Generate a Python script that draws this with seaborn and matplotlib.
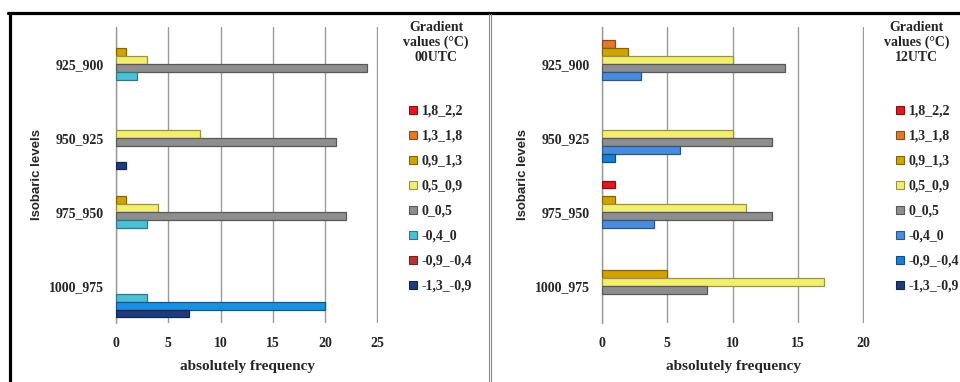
import matplotlib
matplotlib.use("Agg")
import matplotlib.pyplot as plt
from matplotlib.lines import Line2D
from matplotlib.patches import Patch
from matplotlib.colors import to_rgb
import numpy as np
import pandas as pd
import seaborn as sns

# Isobaric layers (top to bottom) and gradient classes (legend order)
levels = ["925_900", "950_925", "975_950", "1000_975"]
gradient_bins = ["1,8_2,2", "1,3_1,8", "0,9_1,3", "0,5_0,9",
                 "0_0,5", "-0,4_0", "-0,9_-0,4", "-1,3_-0,9"]

# absolute frequency per gradient class, one value per isobaric layer
freq_00utc = {
    "1,8_2,2":   [0, 0, 0, 0],
    "1,3_1,8":   [0, 0, 0, 0],
    "0,9_1,3":   [1, 0, 1, 0],
    "0,5_0,9":   [3, 8, 4, 0],
    "0_0,5":     [24, 21, 22, 0],
    "-0,4_0":    [2, 0, 3, 3],
    "-0,9_-0,4": [0, 0, 0, 20],
    "-1,3_-0,9": [0, 1, 0, 7],
}
freq_12utc = {
    "1,8_2,2":   [0, 0, 1, 0],
    "1,3_1,8":   [1, 0, 0, 0],
    "0,9_1,3":   [2, 0, 1, 5],
    "0,5_0,9":   [10, 10, 11, 17],
    "0_0,5":     [14, 13, 13, 8],
    "-0,4_0":    [3, 6, 4, 0],
    "-0,9_-0,4": [0, 1, 0, 0],
    "-1,3_-0,9": [0, 0, 0, 0],
}

xticks_00 = [0, 5, 10, 15, 20, 25]
xticks_12 = [0, 5, 10, 15, 20]

bar_colors_00 = ["#e3171f", "#e07a2c", "#d2a300", "#f3ef6e",
                 "#8e8e8e", "#4cc0d6", "#1b8fe0", "#1d3c80"]
legend_colors_00 = ["#e3171f", "#e07a2c", "#d2a300", "#f3ef6e",
                    "#8e8e8e", "#4cc0d6", "#b83434", "#1d3c80"]
bar_colors_12 = ["#e3171f", "#e07a2c", "#d2a300", "#f3ef6e",
                 "#8e8e8e", "#4a8cdc", "#1a7fd2", "#1d3c80"]
legend_colors_12 = bar_colors_12


def long_table(freq):
    rows = []
    for b in gradient_bins:
        for lev, v in zip(levels, freq[b]):
            if v > 0:
                rows.append({"level": lev, "bin": b, "freq": v})
    return pd.DataFrame(rows)


def darker(c, f=0.62):
    r, g, b = to_rgb(c)
    return (r * f, g * f, b * f)


sns.set_theme(style="white")
plt.rcParams["font.family"] = ["Liberation Serif", "DejaVu Serif"]

W, H = 960, 382
fig = plt.figure(figsize=(W / 100, H / 100), dpi=100)


def panel(x0, freq, bar_cols, leg_cols, xmax, xticks, utc, leg_x, title_x):
    ax = fig.add_axes([x0 / W, 59 / H, 262 / W, 296 / H])
    df = long_table(freq)
    pal = dict(zip(gradient_bins, bar_cols))
    sns.barplot(data=df, y="level", x="freq", hue="bin", order=levels,
                hue_order=gradient_bins, palette=pal, orient="h",
                width=0.85, dodge=True, errorbar=None, legend=False,
                saturation=1, ax=ax, zorder=3)
    for p in ax.patches:
        p.set_edgecolor(darker(p.get_facecolor()))
        p.set_linewidth(0.9)
    ax.set_xlim(0, xmax * 1.002)
    ax.set_xticks(xticks)
    ax.grid(axis="x", color="#9a9a9a", lw=1.0, zorder=0)
    ax.grid(axis="y", visible=False)
    for s in ["top", "right", "bottom"]:
        ax.spines[s].set_visible(False)
    ax.spines["left"].set_color("#9a9a9a")
    ax.spines["left"].set_linewidth(1.0)
    ax.tick_params(axis="x", length=2, color="#9a9a9a", pad=8, labelsize=10)
    ax.tick_params(axis="y", length=0, pad=9, labelsize=10)
    for t in ax.get_xticklabels() + ax.get_yticklabels():
        t.set_fontweight("bold")
    ax.set_xlabel("absolutely frequency", fontsize=11, fontweight="bold",
                  labelpad=7)
    ax.set_ylabel("Isobaric levels", fontsize=9.5, fontweight="bold",
                  family=["Liberation Sans", "DejaVu Sans"])
    ax.yaxis.set_label_coords(-73 / 262, 0.5)

    handles = [Patch(facecolor=c, edgecolor=darker(c), lw=0.8)
               for c in leg_cols]
    fig.legend(handles, gradient_bins, loc="upper left",
               bbox_to_anchor=(leg_x / W, 1 - 105 / H), frameon=False,
               prop={"weight": "bold", "size": 10}, handlelength=0.55,
               handleheight=0.55, handletextpad=0.35, labelspacing=0.86,
               borderpad=0, borderaxespad=0)
    fig.text(title_x / W, 1 - 21 / H, f"Gradient\nvalues (°C)\n{utc}",
             ha="center", va="top", fontsize=10, fontweight="bold",
             linespacing=1.17)
    return ax


panel(116, freq_00utc, bar_colors_00, legend_colors_00, 25, xticks_00,
      "00UTC", 409, 436)
panel(602, freq_12utc, bar_colors_12, legend_colors_12, 20, xticks_12,
      "12UTC", 896, 917)

# page frame: heavy top/left rule, double rule between the panels
tf = fig.transFigure
fig.add_artist(Line2D([8 / W, 1], [1 - 12.5 / H] * 2, color="black",
                      lw=2.3, transform=tf))
fig.add_artist(Line2D([9.5 / W] * 2, [0, 1 - 12.5 / H], color="black",
                      lw=2.3, transform=tf))
for xp in (488.5, 490.8):
    fig.add_artist(Line2D([xp / W] * 2, [0, 1 - 14 / H], color="#8a8a8a",
                          lw=0.8, transform=tf))

fig.savefig("out.png", dpi=100)
